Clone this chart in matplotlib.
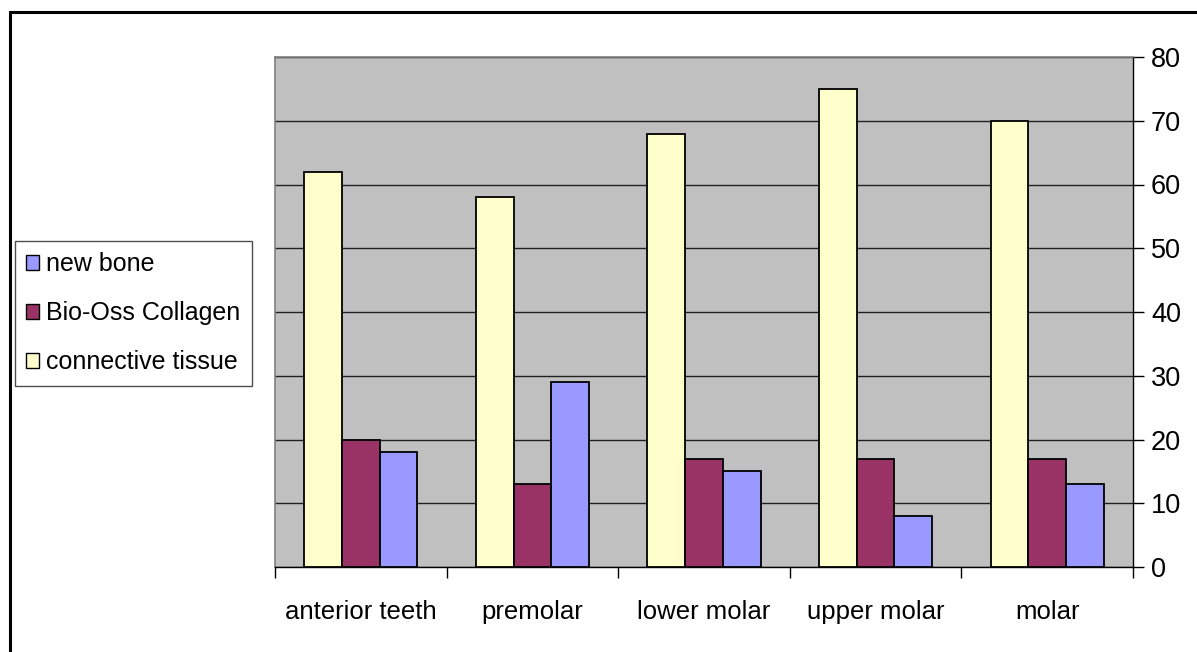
import matplotlib
matplotlib.use("Agg")
import matplotlib.pyplot as plt
import numpy as np
from matplotlib.patches import Patch, Rectangle

categories = ["anterior teeth", "premolar", "lower molar", "upper molar", "molar"]
connective_tissue = [62, 58, 68, 75, 70]
bio_oss_collagen = [20, 13, 17, 17, 17]
new_bone = [18, 29, 15, 8, 13]
y_ticks = [0, 10, 20, 30, 40, 50, 60, 70, 80]

plt.rcParams["font.family"] = ["Liberation Sans", "DejaVu Sans"]

W, H = 1197, 652
fig = plt.figure(figsize=(W / 100, H / 100), dpi=100)
fig.patch.set_facecolor("white")

# outer chart frame
fig.add_artist(Rectangle((9.5 / W, -0.2), 1.5, 1.2 - 12 / H, transform=fig.transFigure,
                         fill=False, edgecolor="black", linewidth=2.2, clip_on=False))

ax = fig.add_axes([275 / W, (H - 567) / H, (1133 - 275) / W, (567 - 57) / H])
ax.set_facecolor("#C0C0C0")

x = np.arange(len(categories))
bw = 0.22
series = [
    (connective_tissue, "#FFFFCC", "connective tissue", -bw),
    (bio_oss_collagen, "#993366", "Bio-Oss Collagen", 0.0),
    (new_bone, "#9999FF", "new bone", bw),
]
for vals, col, lab, off in series:
    ax.bar(x + off, vals, width=bw, color=col, edgecolor="black", linewidth=1.3, zorder=3)

ax.set_xlim(-0.5, len(categories) - 0.5)
ax.set_ylim(0, 80)
ax.set_yticks(y_ticks)
ax.yaxis.tick_right()
ax.yaxis.set_label_position("right")
ax.grid(axis="y", color="#202020", linewidth=1.0, zorder=1)
ax.set_axisbelow(True)

# category boundaries carry the ticks; labels sit at group centres
ax.set_xticks(np.arange(len(categories) + 1) - 0.5)
ax.set_xticklabels([])
ax.set_xticks(x, minor=True)
ax.set_xticklabels(categories, minor=True, fontsize=18.5)
ax.tick_params(axis="x", which="major", length=8, width=1, color="black", direction="out")
ax.tick_params(axis="x", which="minor", length=0, pad=24)
ax.tick_params(axis="y", which="major", length=8, width=1, color="black", direction="out",
               labelsize=19.5, pad=5, right=True, left=False)

for side in ["top", "left"]:
    ax.spines[side].set_color("#808080")
    ax.spines[side].set_linewidth(1.2)
ax.spines["bottom"].set_color("black")
ax.spines["right"].set_color("black")
ax.spines["bottom"].set_linewidth(1.0)
ax.spines["right"].set_linewidth(1.0)

handles = [
    Patch(facecolor="#9999FF", edgecolor="black", linewidth=1.0, label="new bone"),
    Patch(facecolor="#993366", edgecolor="black", linewidth=1.0, label="Bio-Oss Collagen"),
    Patch(facecolor="#FFFFCC", edgecolor="black", linewidth=1.0, label="connective tissue"),
]
leg = fig.legend(handles=handles, loc="upper left", bbox_to_anchor=(15 / W, 1 - 241 / H),
                 fontsize=18, frameon=True, fancybox=False, borderaxespad=0,
                 handlelength=0.5, handleheight=0.5, handletextpad=0.3,
                 labelspacing=1.0, borderpad=0.45)
leg.get_frame().set_edgecolor("#202020")
leg.get_frame().set_linewidth(1.0)

fig.savefig("out.png", dpi=100, facecolor="white")
